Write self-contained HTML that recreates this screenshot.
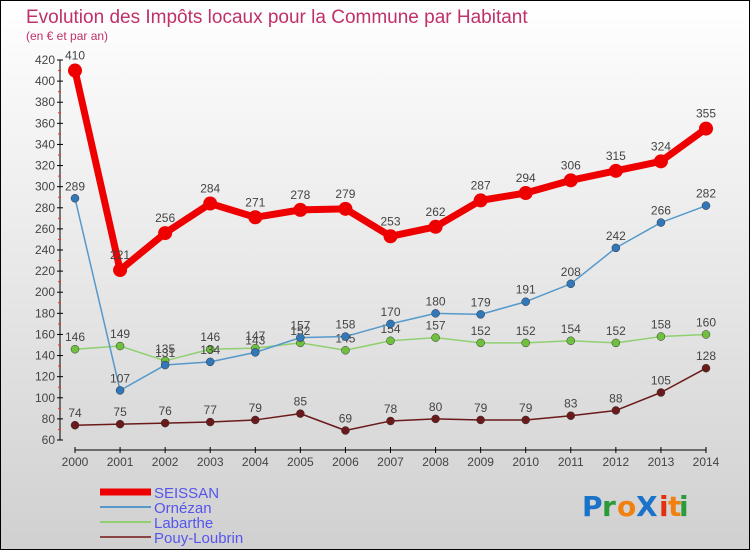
<!DOCTYPE html>
<html><head><meta charset="utf-8"><style>
html,body{margin:0;padding:0}
body{width:750px;height:550px;overflow:hidden;font-family:"Liberation Sans",sans-serif}
</style></head><body>
<svg id="chart" width="750" height="550" xmlns="http://www.w3.org/2000/svg">
<defs><linearGradient id="bg" x1="0" y1="0" x2="0" y2="1"><stop offset="0" stop-color="#ffffff"/><stop offset="1" stop-color="#d0d0d0"/></linearGradient></defs>
<rect x="0.5" y="0.5" width="749" height="549" fill="url(#bg)" stroke="#000"/>
<text x="26" y="23" font-size="19" fill="#c0306a">Evolution des Impôts locaux pour la Commune par Habitant</text>
<text x="26" y="40" font-size="12" fill="#c0306a">(en € et par an)</text>
<g id="axes"></g><g id="series"></g><g id="legend"></g>
<g font-size="28" font-weight="bold" font-family="'DejaVu Sans',sans-serif">
<text x="582" y="516" fill="#1a73c8">P</text><text x="602" y="516" fill="#2a9a3a">r</text><text x="617" y="516" fill="#f08010">o</text><text x="636" y="516" fill="#1a73c8">X</text><text x="659" y="516" fill="#e03010">i</text><text x="668" y="516" fill="#f08010">t</text><text x="679" y="516" fill="#2a9a3a">i</text>
</g>
</svg>
<script>
const years=[2000,2001,2002,2003,2004,2005,2006,2007,2008,2009,2010,2011,2012,2013,2014];
const seissan=[410,221,256,284,271,278,279,253,262,287,294,306,315,324,355];
const ornezan=[289,107,131,134,143,157,158,170,180,179,191,208,242,266,282];
const labarthe=[146,149,135,146,147,152,145,154,157,152,152,154,152,158,160];
const pouy=[74,75,76,77,79,85,69,78,80,79,79,83,88,105,128];
const yTicks=[60,80,100,120,140,160,180,200,220,240,260,280,300,320,340,360,380,400,420];
const NS="http://www.w3.org/2000/svg";
const X=i=>75+i*(706-75)/14;
const Y=v=>440-(v-60)*(380/360);
function mk(t,a,p){const e=document.createElementNS(NS,t);for(const k in a)e.setAttribute(k,a[k]);p.appendChild(e);return e;}
const ax=document.getElementById('axes');
let l=mk('line',{x1:60,y1:Y(60),x2:60,y2:Y(420),stroke:'#000'},ax);


l=mk('line',{x1:75,y1:450,x2:706,y2:450,stroke:'#000'},ax);


yTicks.forEach(v=>{
 mk('line',{x1:57,y1:Y(v),x2:63,y2:Y(v),stroke:'#000'},ax);
 if(v<420) mk('line',{x1:58,y1:Y(v+10),x2:61,y2:Y(v+10),stroke:'#f03030'},ax);
 const t=mk('text',{x:55,y:Y(v)+4,'text-anchor':'end','font-size':12,fill:'#444'},ax);t.textContent=v;
 
 
});
years.forEach((y,i)=>{
 mk('line',{x1:X(i),y1:447,x2:X(i),y2:453,stroke:'#000'},ax);
 const t=mk('text',{x:X(i),y:466,'text-anchor':'middle','font-size':12,fill:'#444'},ax);t.textContent=y;
 
 
});
const sg=document.getElementById('series');
const defs=[[pouy,'#6a1a1a','#6a1a1a',1.5,4,'pouy-loubrin'],[labarthe,'#90d070','#70c040',1.5,4,'labarthe'],[ornezan,'#5599cc','#3377bb',1.5,4,'ornezan'],[seissan,'#ee0000','#ee0000',7,7,'seissan']];
defs.forEach(([d,c,pc,w,r,n])=>{
 const g=mk('g',{},sg);
 
 
 const p=mk('polyline',{points:d.map((v,i)=>X(i)+','+Y(v)).join(' '),fill:'none',stroke:c,'stroke-width':w,'stroke-linejoin':'round'},g);
 
 
 d.forEach((v,i)=>{
  const m=mk('circle',{cx:X(i),cy:Y(v),r:r,fill:pc,stroke:'#333','stroke-width':r>5?0:0.5},g);
  
  
  const t=mk('text',{x:X(i),y:Y(v)-(r>5?11:8),'text-anchor':'middle','font-size':12,fill:'#444'},g);t.textContent=v;
  
  
 });
});
const lg=document.getElementById('legend');
[['SEISSAN','#ee0000',7],['Ornézan','#5599cc',2],['Labarthe','#90d070',2],['Pouy-Loubrin','#8a4444',2]].forEach(([n,c,w],i)=>{
 const y=492+i*15;
 const g=mk('g',{},lg);
 
 
 mk('line',{x1:100,y1:y,x2:151,y2:y,stroke:c,'stroke-width':w},g);
 const t=mk('text',{x:154,y:y+6,'font-size':15,fill:'#5555ee'},g);t.textContent=n;
});
</script>
</body></html>
